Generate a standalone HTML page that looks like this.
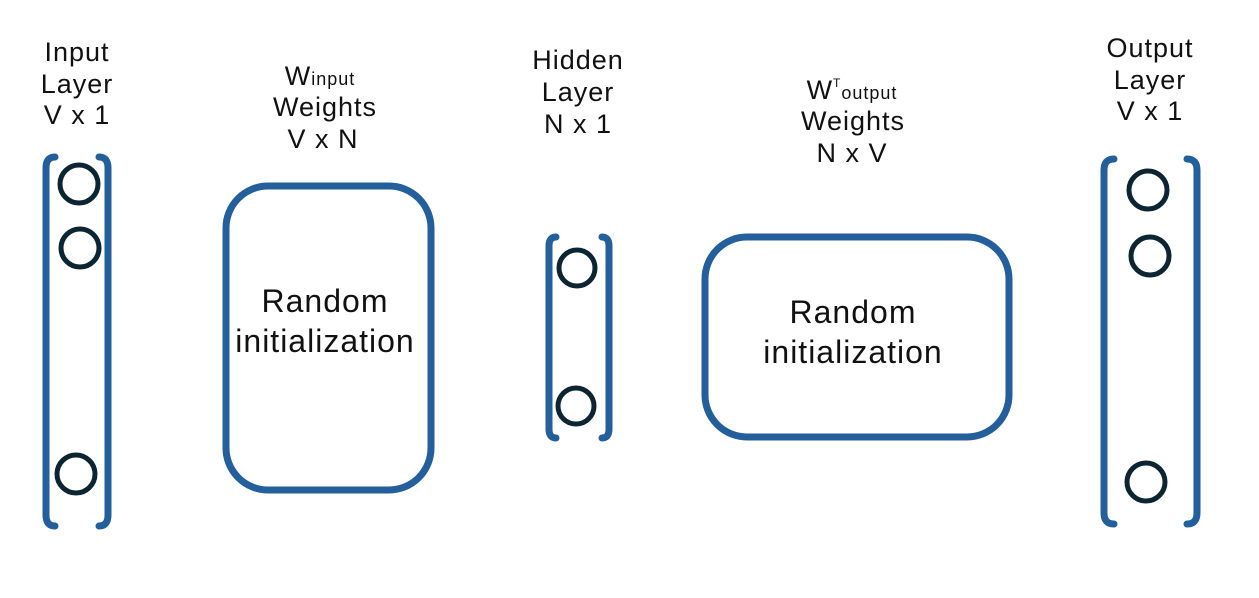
<!DOCTYPE html>
<html><head><meta charset="utf-8"><style>
body{margin:0;background:#fff}
svg text{font-family:"Liberation Sans",sans-serif;fill:#111;text-anchor:middle}
</style></head><body>
<svg width="1259" height="593" viewBox="0 0 1259 593">
<g fill="none" stroke="#235f9b" stroke-width="7" stroke-linecap="round">
<path d="M55,157 Q46,157 46,168 L46,515 Q46,526 55,526"/>
<path d="M99,157 Q108,157 108,168 L108,515 Q108,526 99,526"/>
<rect x="226" y="186" width="205" height="304" rx="42"/>
<path d="M556,237 Q549,237 549,246 L549,429 Q549,438 556,438"/>
<path d="M602,237 Q609,237 609,246 L609,429 Q609,438 602,438"/>
<rect x="705" y="237" width="304" height="200" rx="42"/>
<path d="M1114,159 Q1104,159 1104,170 L1104,513 Q1104,524 1114,524"/>
<path d="M1187,159 Q1197,159 1197,170 L1197,513 Q1197,524 1187,524"/>
</g>
<g fill="none" stroke="#0d2533" stroke-width="5">
<circle cx="79" cy="184" r="19"/>
<circle cx="80" cy="248" r="19"/>
<circle cx="76" cy="474" r="19"/>
<circle cx="577" cy="268" r="18"/>
<circle cx="576" cy="406" r="18"/>
<circle cx="1148" cy="190" r="19"/>
<circle cx="1150" cy="256" r="19"/>
<circle cx="1146" cy="482" r="19"/>
</g>
<g font-size="27" letter-spacing="1">
<text x="77" y="61">Input</text><text x="77" y="93">Layer</text><text x="77" y="124">V x 1</text></g>
<g font-size="27" letter-spacing="1">
<text x="320" y="85">W<tspan font-size="18">input</tspan></text><text x="325" y="116">Weights</text><text x="323" y="148">V x N</text></g>
<g font-size="27" letter-spacing="1">
<text x="578" y="69">Hidden</text><text x="578" y="101">Layer</text><text x="578" y="133">N x 1</text></g>
<g font-size="27" letter-spacing="1">
<text x="852" y="99">W<tspan font-size="12" dy="-12">T</tspan><tspan font-size="18" dy="12">output</tspan></text><text x="853" y="130">Weights</text><text x="852" y="162">N x V</text></g>
<g font-size="27" letter-spacing="1">
<text x="1150" y="57">Output</text><text x="1150" y="89">Layer</text><text x="1150" y="120">V x 1</text></g>
<g font-size="32" letter-spacing="1">
<text x="325" y="312">Random</text><text x="325" y="352">initialization</text></g>
<g font-size="32" letter-spacing="1">
<text x="853" y="323">Random</text><text x="853" y="363">initialization</text></g>
</svg>
</body></html>
